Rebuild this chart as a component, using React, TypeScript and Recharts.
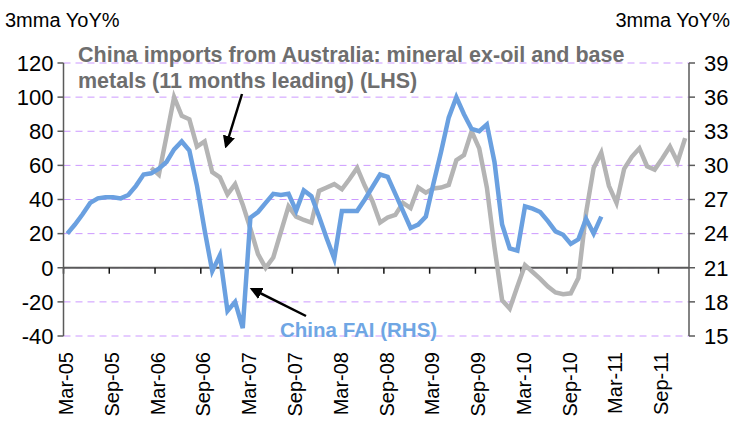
import {
  CartesianGrid,
  Line,
  LineChart,
  ReferenceLine,
  XAxis,
  YAxis,
} from "recharts";

// x axis labels, one every 6 months starting Mar-05
const tickLabels = [
  "Mar-05", "Sep-05", "Mar-06", "Sep-06", "Mar-07", "Sep-07", "Mar-08",
  "Sep-08", "Mar-09", "Sep-09", "Mar-10", "Sep-10", "Mar-11", "Sep-11",
];

// China imports from Australia, mineral ex-oil and base metals, 3mma YoY%, 11 months leading (LHS)
// monthly, Mar-05 .. Dec-11
const chinaImports: (number | null)[] = [
  null, null, null, null, null, null, null, null, null, null, null,
  58.5, 54.5, 77, 100, 89, 87, 71, 74, 56, 53,
  43, 49, 37, 23, 8, 0, 6, 21, 36, 30,
  28, 26.5, 45, 47, 49, 46, 52, 58.5, 48, 39,
  26.5, 29.5, 31, 38, 35, 47, 44, 46.5, 47, 48.5,
  63, 66, 80, 70, 47, 12, -19, -24, -11, 1.5,
  -2.5, -6.5, -11, -14.5, -15.5, -15, -6, 32, 58.5, 67.5,
  48, 38, 58, 65, 70, 59.5, 57.5, 64, 71, 62, 76,
];

// China FAI, 3mma YoY% (RHS), monthly, Mar-05 .. Jan-11
const chinaFai: number[] = [
  24.0, 24.8, 25.7, 26.7, 27.1, 27.2, 27.2, 27.1, 27.4, 28.2,
  29.2, 29.3, 29.7, 30.3, 31.4, 32.1, 31.3, 28.2, 24.3, 20.7,
  22.1, 17.2, 18.0, 15.7, 25.4, 25.9, 26.7, 27.5, 27.4, 27.5,
  26.0, 27.8, 27.3, 25.5, 23.6, 21.8, 26.0, 26.0, 26.0, 27.0,
  28.1, 29.2, 29.0, 27.5, 26.0, 24.5, 24.8, 25.5, 28.4, 31.2,
  34.2, 36.0, 34.5, 33.2, 33.0, 33.6, 30.3, 24.8, 22.7, 22.5,
  26.4, 26.2, 25.9, 25.1, 24.2, 23.9, 23.1, 23.5, 25.3, 24.0, 25.5,
];

const leftTicks = [-40, -20, 0, 20, 40, 60, 80, 100, 120];
const rightTicks = [15, 18, 21, 24, 27, 30, 33, 36, 39];

const rows = chinaImports.map((value, i) => ({
  m: i,
  imports: value,
  fai: i < chinaFai.length ? chinaFai[i] : null,
}));

// ticks sit on the month boundaries
const xTicks = tickLabels.map((_, i) => i * 6 - 0.5);

const font = "'Liberation Sans', Arial, sans-serif";
const axisColor = "#5a5a5a";

function MonthTick(props: any) {
  const { x, y, payload } = props;
  const label = tickLabels[Math.round((payload.value + 0.5) / 6)];
  const ax = x + 2.5;
  const ay = y + 16;
  return (
    <text
      x={ax}
      y={ay}
      dy="0.36em"
      textAnchor="end"
      transform={`rotate(-90, ${ax}, ${ay})`}
      fontSize={20}
      fontFamily={font}
      fill="#000"
    >
      {label}
    </text>
  );
}

export default function App() {
  return (
    <div
      style={{
        position: "relative",
        width: 734,
        height: 424,
        background: "#fff",
        fontFamily: font,
      }}
    >
      <style>{"body{margin:0}"}</style>
      <LineChart
        width={734}
        height={424}
        data={rows}
        margin={{ top: 63, right: 0, bottom: 0, left: 0 }}
      >
        <CartesianGrid
          vertical={false}
          stroke="#cc99ff"
          strokeDasharray="7 5"
        />
        <XAxis
          dataKey="m"
          type="number"
          domain={[-0.5, 81.5]}
          ticks={xTicks}
          interval={0}
          axisLine={false}
          tickLine={false}
          tickSize={0}
          tickMargin={0}
          height={88}
          tick={<MonthTick />}
        />
        <YAxis
          domain={[-40, 120]}
          ticks={leftTicks}
          interval={0}
          width={63.5}
          axisLine={{ stroke: axisColor, strokeWidth: 1.5 }}
          tickLine={{ stroke: axisColor, strokeWidth: 1.5 }}
          tickSize={6}
          tickMargin={4}
          tick={{ fontSize: 22, fill: "#000", fontFamily: font }}
        />
        <YAxis
          yAxisId="right"
          orientation="right"
          domain={[15, 39]}
          ticks={rightTicks}
          interval={0}
          width={45}
          axisLine={{ stroke: axisColor, strokeWidth: 1.5 }}
          tickLine={{ stroke: axisColor, strokeWidth: 1.5 }}
          tickSize={6}
          tickMargin={9}
          tick={{ fontSize: 22, fill: "#000", fontFamily: font, textAnchor: "start" }}
        />
        <ReferenceLine y={0} stroke={axisColor} strokeWidth={2} />
        {xTicks.map((t) => (
          <ReferenceLine
            key={t}
            segment={[
              { x: t, y: 0 },
              { x: t, y: -3.5 },
            ]}
            stroke="#111"
            strokeWidth={1.5}
          />
        ))}
        <Line
          dataKey="imports"
          stroke="#b4b4b4"
          strokeWidth={4.5}
          dot={false}
          activeDot={false}
          type="linear"
          isAnimationActive={false}
        />
        <Line
          dataKey="fai"
          yAxisId="right"
          stroke="#6aa0e0"
          strokeWidth={4.5}
          dot={false}
          activeDot={false}
          type="linear"
          isAnimationActive={false}
        />
      </LineChart>

      <svg
        width={734}
        height={424}
        style={{ position: "absolute", left: 0, top: 0, pointerEvents: "none" }}
      >
        <defs>
          <marker
            id="head"
            viewBox="0 0 10 10"
            refX="8"
            refY="5"
            markerWidth="5"
            markerHeight="5"
            orient="auto"
          >
            <path d="M0,0 L10,5 L0,10 z" fill="#000" />
          </marker>
        </defs>
        <text x={5} y={27} fontSize={20} fontFamily={font} fill="#000">
          3mma YoY%
        </text>
        <text
          x={730}
          y={27}
          fontSize={20}
          fontFamily={font}
          fill="#000"
          textAnchor="end"
        >
          3mma YoY%
        </text>
        <text x={78} y={62} fontSize={21.5} fontWeight="bold" fontFamily={font} fill="#6e6e6e">
          China imports from Australia: mineral ex-oil and base
        </text>
        <text x={78} y={88} fontSize={21.5} fontWeight="bold" fontFamily={font} fill="#6e6e6e">
          metals (11 months leading) (LHS)
        </text>
        <text x={280} y={337} fontSize={20.5} fontWeight="bold" fontFamily={font} fill="#6fa6e4">
          China FAI (RHS)
        </text>
        <line
          x1={242}
          y1={94}
          x2={226}
          y2={146}
          stroke="#000"
          strokeWidth={2.5}
          markerEnd="url(#head)"
        />
        <line
          x1={306}
          y1={316}
          x2={252}
          y2={289}
          stroke="#000"
          strokeWidth={2.5}
          markerEnd="url(#head)"
        />
      </svg>
    </div>
  );
}
